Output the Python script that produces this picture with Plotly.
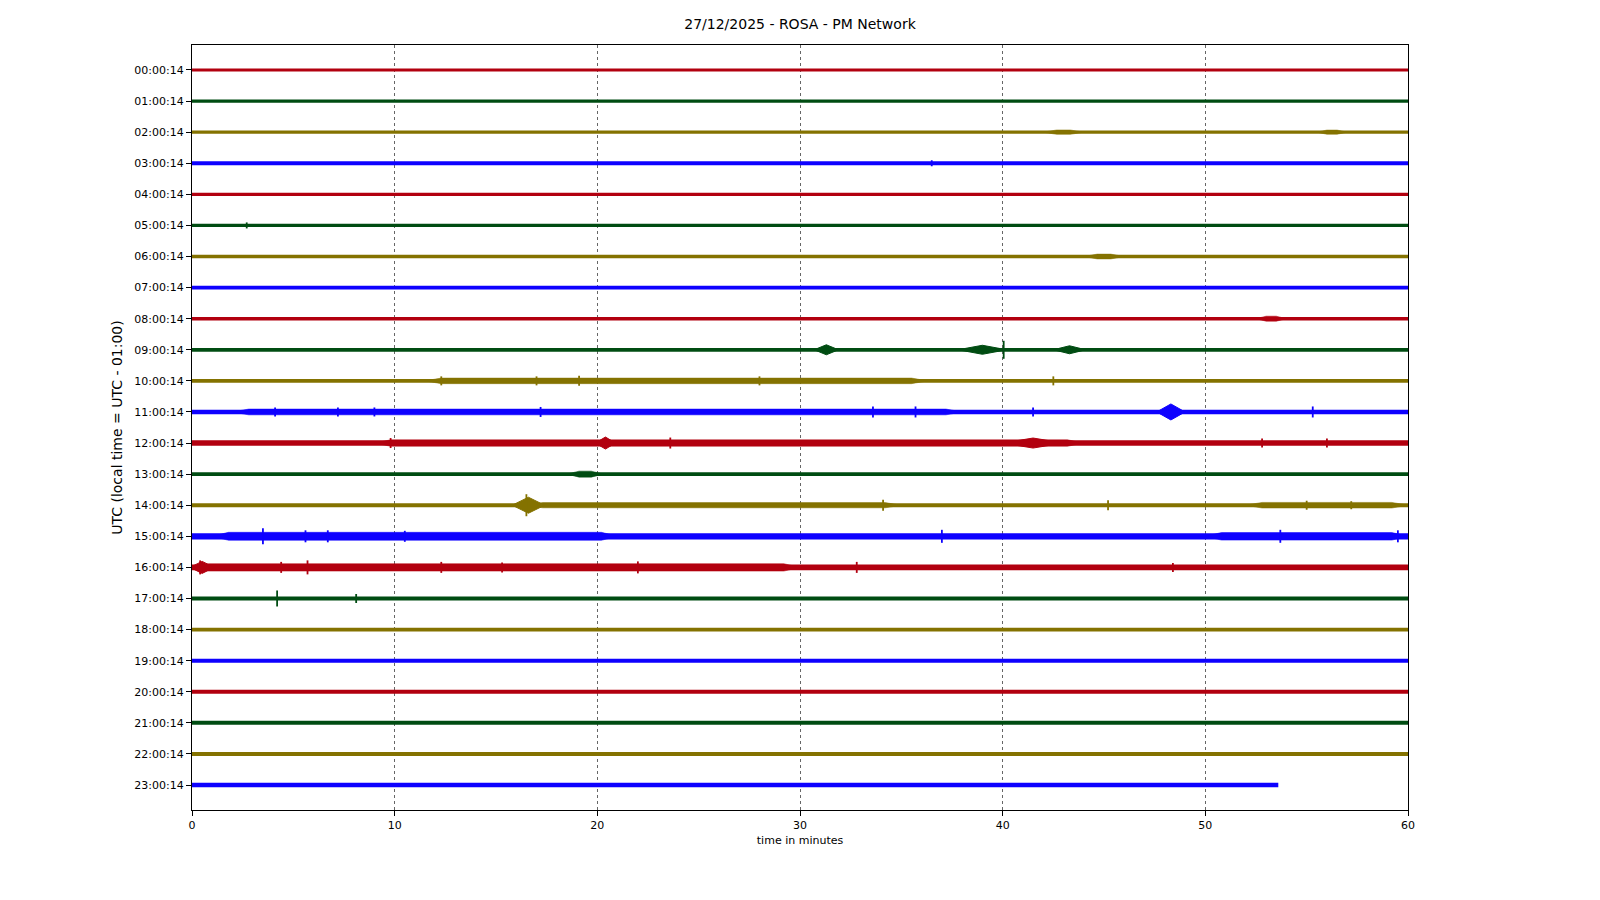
import plotly.graph_objects as go

# ---------------- data ----------------
TITLE = "27/12/2025 - ROSA - PM Network"
ROW_LABELS = [f"{h:02d}:00:14" for h in range(24)]
X_TICKS = [0, 10, 20, 30, 40, 50, 60]

# length of each trace (minutes)
END_T = [60] * 23 + [53.6]

# background noise half-amplitude of each row (pixels)
BASE_AMP = [1.6, 1.6, 1.7, 1.9, 1.6, 1.6, 1.7, 1.9, 1.7, 1.9,
            1.9, 2.3, 2.7, 1.9, 2.0, 3.1, 2.8, 2.0, 1.9, 2.0,
            1.9, 2.0, 2.0, 2.2]

# stretches of stronger noise: (row, start min, end min, half-amplitude px)
SEGMENTS = [
    (2, 42.0, 44.0, 2.2), (2, 55.5, 57.0, 2.1),
    (6, 44.0, 46.0, 2.4),
    (8, 52.5, 54.0, 2.5),
    (10, 11.5, 36.3, 2.8),
    (11, 2.0, 38.0, 2.9),
    (12, 9.0, 44.0, 3.2),
    (13, 18.5, 20.3, 3.0),
    (14, 16.5, 35.0, 2.6), (14, 52.0, 60.0, 2.8),
    (15, 1.0, 21.0, 4.0), (15, 50.0, 60.0, 3.8),
    (16, 0.0, 30.0, 3.7),
]

# spindle-shaped events: (row, centre min, half-duration min, half-amplitude px)
EVENTS = [
    (9, 31.3, 0.6, 5.0), (9, 39.0, 1.2, 4.5), (9, 43.3, 0.8, 4.0),
    (11, 48.3, 0.7, 8.0),
    (12, 20.4, 0.5, 6.0), (12, 41.5, 1.5, 5.0),
    (14, 16.6, 0.8, 8.0),
    (16, 0.5, 0.6, 6.0),
]

# short spikes: (row, minute, half-amplitude px)
SPIKES = [
    (3, 36.5, 3.0), (5, 2.7, 3.0),
    (9, 40.05, 9.0),
    (10, 12.3, 4.5), (10, 17.0, 4.5), (10, 19.1, 5.0), (10, 28.0, 4.5), (10, 42.5, 4.5),
    (11, 4.1, 4.5), (11, 7.2, 4.5), (11, 9.0, 4.5), (11, 17.2, 5.0), (11, 33.6, 5.5),
    (11, 35.7, 5.5), (11, 41.5, 4.5), (11, 55.3, 5.5),
    (12, 9.8, 5.0), (12, 23.6, 5.5), (12, 52.8, 4.5), (12, 56.0, 4.5),
    (14, 16.5, 11.0), (14, 34.1, 5.5), (14, 45.2, 5.0), (14, 55.0, 4.5), (14, 57.2, 4.0),
    (15, 3.5, 8.0), (15, 5.6, 6.0), (15, 6.7, 6.0), (15, 10.5, 5.5), (15, 37.0, 6.5),
    (15, 53.7, 6.5), (15, 59.5, 6.0),
    (16, 0.4, 7.0), (16, 4.4, 5.5), (16, 5.7, 7.0), (16, 12.3, 5.5), (16, 15.3, 5.0),
    (16, 22.0, 6.0), (16, 32.8, 5.5), (16, 48.4, 4.5),
    (17, 4.2, 8.0), (17, 8.1, 4.5),
]

COLORS = ["#B2000F", "#004C12", "#847200", "#0E01FF"]

# ---------------- layout constants ----------------
PAGE_OFFSET = 8            # default body margin of the html page
W, H = 1600 - 2 * PAGE_OFFSET, 900 - 2 * PAGE_OFFSET
ML, MT = 192 - PAGE_OFFSET, 45 - PAGE_OFFSET
PLOT_W, PLOT_H = 1216, 765
MR, MB = W - ML - PLOT_W, H - MT - PLOT_H
Y_PAD = 0.804
Y_RANGE = [23 + Y_PAD, -Y_PAD]
PX_PER_ROW = PLOT_H / (Y_RANGE[0] - Y_RANGE[1])
TAPER = 0.8  # minutes over which a noisy stretch grows / fades

fig = go.Figure()

for r in range(24):
    col = COLORS[r % 4]
    # base noise band
    fig.add_trace(go.Scatter(x=[0, END_T[r]], y=[r, r], mode="lines",
                             line=dict(color=col, width=2 * BASE_AMP[r]),
                             hoverinfo="skip", showlegend=False))
    # stronger noise stretches (tapered polygons)
    gx, gy = [], []
    for (rr, t0, t1, a) in SEGMENTS:
        if rr == r:
            d = a / PX_PER_ROW
            tp = min(TAPER, (t1 - t0) / 3)
            gx += [t0, t0 + tp, t1 - tp, t1, t1 - tp, t0 + tp, t0, None]
            gy += [r, r - d, r - d, r, r + d, r + d, r, None]
    if gx:
        fig.add_trace(go.Scatter(x=gx, y=gy, mode="lines", fill="toself",
                                 fillcolor=col, line=dict(color=col, width=0.5),
                                 hoverinfo="skip", showlegend=False))
    # events
    ex, ey = [], []
    for (rr, tc, hd, a) in EVENTS:
        if rr == r:
            d = a / PX_PER_ROW
            ex += [tc - hd, tc, tc + hd, tc, tc - hd, None]
            ey += [r, r - d, r, r + d, r, None]
    if ex:
        fig.add_trace(go.Scatter(x=ex, y=ey, mode="lines", fill="toself",
                                 fillcolor=col, line=dict(color=col, width=1),
                                 hoverinfo="skip", showlegend=False))
    # spikes
    sx, sy = [], []
    for (rr, t, a) in SPIKES:
        if rr == r:
            d = a / PX_PER_ROW
            sx += [t, t, None]
            sy += [r - d, r + d, None]
    if sx:
        fig.add_trace(go.Scatter(x=sx, y=sy, mode="lines",
                                 line=dict(color=col, width=1.8),
                                 hoverinfo="skip", showlegend=False))

FONT = "DejaVu Sans"
fig.update_layout(
    width=W, height=H,
    margin=dict(l=ML, r=MR, t=MT, b=MB),
    plot_bgcolor="white", paper_bgcolor="white",
    font=dict(family=FONT, color="black", size=11),
    title=dict(text=TITLE, x=0.5, xanchor="center",
               y=1 - (24 - PAGE_OFFSET) / H, yanchor="middle",
               font=dict(size=14, family=FONT, color="black")),
)
fig.update_xaxes(range=[0, 60], tickvals=X_TICKS, ticks="outside", ticklen=5,
                 tickcolor="black", showline=True, linecolor="black", linewidth=1.2,
                 mirror=True, showgrid=True, gridcolor="#666", griddash="dot",
                 gridwidth=0.5, zeroline=False,
                 title=dict(text="time in minutes", font=dict(size=11, family=FONT),
                            standoff=5),
                 tickfont=dict(size=11, family=FONT))
fig.update_yaxes(range=Y_RANGE, tickvals=list(range(24)), ticktext=ROW_LABELS,
                 ticks="outside", ticklen=5, tickcolor="black", showline=True,
                 linecolor="black", linewidth=1.2, mirror=True, showgrid=False,
                 zeroline=False,
                 title=dict(text="UTC (local time = UTC - 01:00)",
                            font=dict(size=14, family=FONT), standoff=8),
                 tickfont=dict(size=11, family=FONT))

fig.write_html("out.html")
